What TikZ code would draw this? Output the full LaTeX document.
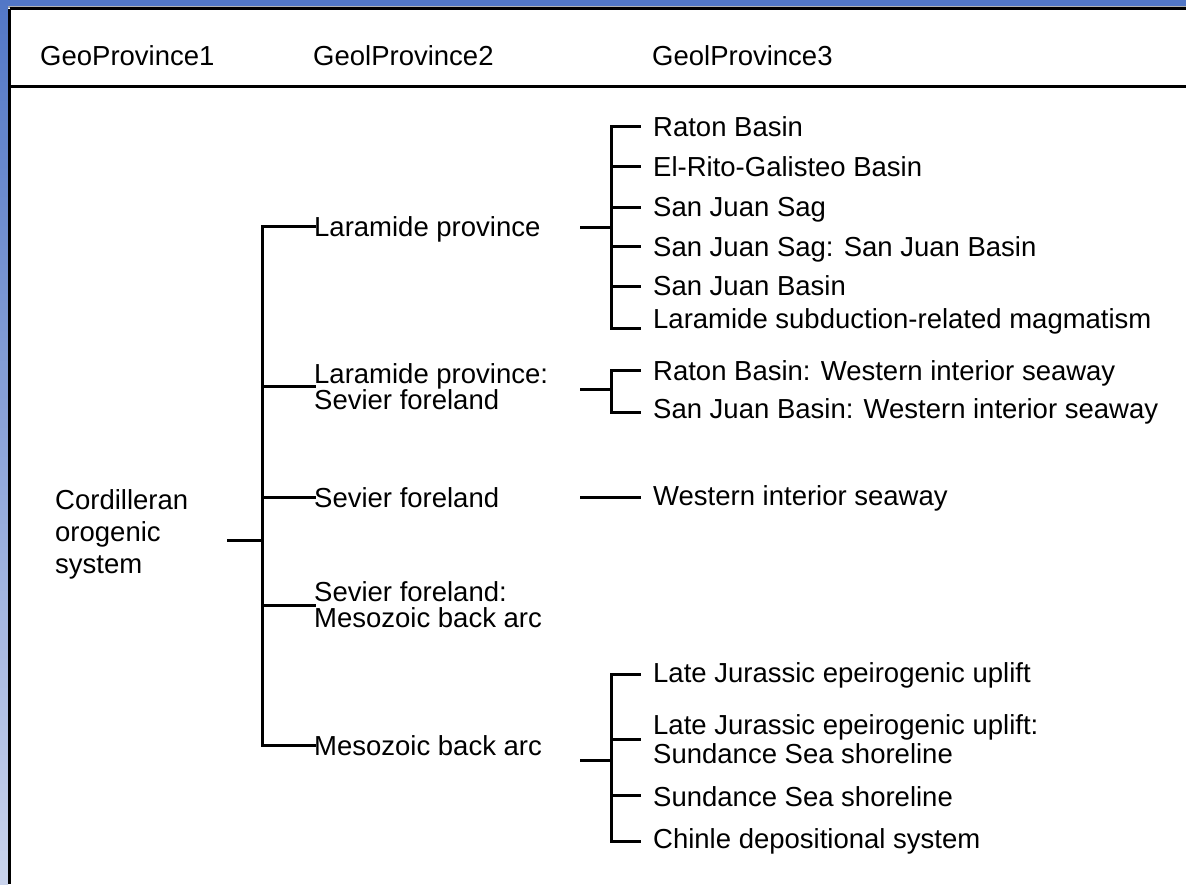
\documentclass[tikz,border=0pt]{standalone}
\usepackage{fontspec}
\setmainfont{Liberation Sans}
\definecolor{frameblue}{HTML}{5277C6}
\definecolor{framelight}{HTML}{C9D3EC}
\begin{document}
\begin{tikzpicture}[x=1pt,y=-1pt,
  lbl/.style={anchor=base west,inner sep=0pt,font=\fontsize{27.5}{26}\selectfont,align=left},
  conn/.style={line width=3pt,line cap=rect},
  rule/.style={line width=3pt}]
\useasboundingbox (0,0) rectangle (1186,884);
\fill[white] (0,0) rectangle (1186,884);
% frame
\fill[frameblue] (0,0) rectangle (1186,6);
\fill[gray!60] (8,6) rectangle (1186,7.5);
\shade[top color=frameblue,bottom color=framelight] (0,0) rectangle (8,884);
\draw[rule] (9.5,8.6) -- (1186,8.6);
\draw[rule] (9.5,8.6) -- (9.5,884);
\draw[rule] (9.5,86) -- (1186,86);
% headers
\node[lbl] (h1) at (40,65) {GeoProvince1};
\node[lbl] (h2) at (313,65) {GeolProvince2};
\node[lbl] (h3) at (652,65) {GeolProvince3};
% level 1 (base = last line)
\node[lbl,font=\fontsize{27.5}{32}\selectfont] (root) at (55,573) {Cordilleran\\orogenic\\system};
% level 2
\node[lbl] (lp) at (314,236) {Laramide province};
\node[lbl] (lpsf) at (314,409) {Laramide province:\\Sevier foreland};
\node[lbl] (sf) at (314,507) {Sevier foreland};
\node[lbl] (sfmb) at (314,627) {Sevier foreland:\\Mesozoic back arc};
\node[lbl] (mb) at (314,755) {Mesozoic back arc};
% level 3 group A
\node[lbl] (a1) at (653,136) {Raton Basin};
\node[lbl] (a2) at (653,176) {El-Rito-Galisteo Basin};
\node[lbl] (a3) at (653,216) {San Juan Sag};
\node[lbl] (a4) at (653,256) {San Juan Sag: San Juan Basin};
\node[lbl] (a5) at (653,295) {San Juan Basin};
\node[lbl] (a6) at (653,328) {Laramide subduction-related magmatism};
% group B
\node[lbl] (b1) at (653,380) {Raton Basin: Western interior seaway};
\node[lbl] (b2) at (653,418) {San Juan Basin: Western interior seaway};
% single
\node[lbl] (w1) at (653,505) {Western interior seaway};
% group C
\node[lbl] (c1) at (653,682) {Late Jurassic epeirogenic uplift};
\node[lbl,font=\fontsize{27.5}{29}\selectfont] (c2) at (653,763) {Late Jurassic epeirogenic uplift:\\Sundance Sea shoreline};
\node[lbl] (c3) at (653,806) {Sundance Sea shoreline};
\node[lbl] (c4) at (653,848) {Chinle depositional system};
% connector coordinates
\coordinate (r0) at (228,540);
\coordinate (r1) at (262,540);
\coordinate (ga0) at (581,227);
\coordinate (ga1) at (611,227);
\coordinate (gb0) at (581,389);
\coordinate (gb1) at (611,389);
\coordinate (gw0) at (581,497);
\coordinate (gc0) at (581,760);
\coordinate (gc1) at (611,760);
% level 1 -> level 2
\draw[conn] (r0) -- (r1);
\draw[conn] (lp.west |- 0,226) -- (r1 |- 0,226) -- (r1 |- 0,745) -- (mb.west |- 0,745);
\draw[conn] (r1 |- 0,386) -- (lpsf.west |- 0,386);
\draw[conn] (r1 |- 0,497) -- (sf.west |- 0,497);
\draw[conn] (r1 |- 0,605) -- (sfmb.west |- 0,605);
% group A
\draw[conn] (ga0) -- (ga1);
\draw[conn] ([xshift=-14pt]a1.west |- 0,126) -- (ga1 |- 0,126) -- (ga1 |- 0,328) -- ([xshift=-14pt]a6.west |- 0,328);
\draw[conn] (ga1 |- 0,166) -- ([xshift=-14pt]a2.west |- 0,166);
\draw[conn] (ga1 |- 0,207) -- ([xshift=-14pt]a3.west |- 0,207);
\draw[conn] (ga1 |- 0,246) -- ([xshift=-14pt]a4.west |- 0,246);
\draw[conn] (ga1 |- 0,286) -- ([xshift=-14pt]a5.west |- 0,286);
% group B
\draw[conn] (gb0) -- (gb1);
\draw[conn] ([xshift=-14pt]b1.west |- 0,370) -- (gb1 |- 0,370) -- (gb1 |- 0,412) -- ([xshift=-14pt]b2.west |- 0,412);
% single
\draw[conn] (gw0) -- ([xshift=-14pt]w1.west |- 0,497);
% group C
\draw[conn] (gc0) -- (gc1);
\draw[conn] ([xshift=-14pt]c1.west |- 0,674) -- (gc1 |- 0,674) -- (gc1 |- 0,841) -- ([xshift=-14pt]c4.west |- 0,841);
\draw[conn] (gc1 |- 0,739) -- ([xshift=-14pt]c2.west |- 0,739);
\draw[conn] (gc1 |- 0,795) -- ([xshift=-14pt]c3.west |- 0,795);
\end{tikzpicture}
\end{document}
